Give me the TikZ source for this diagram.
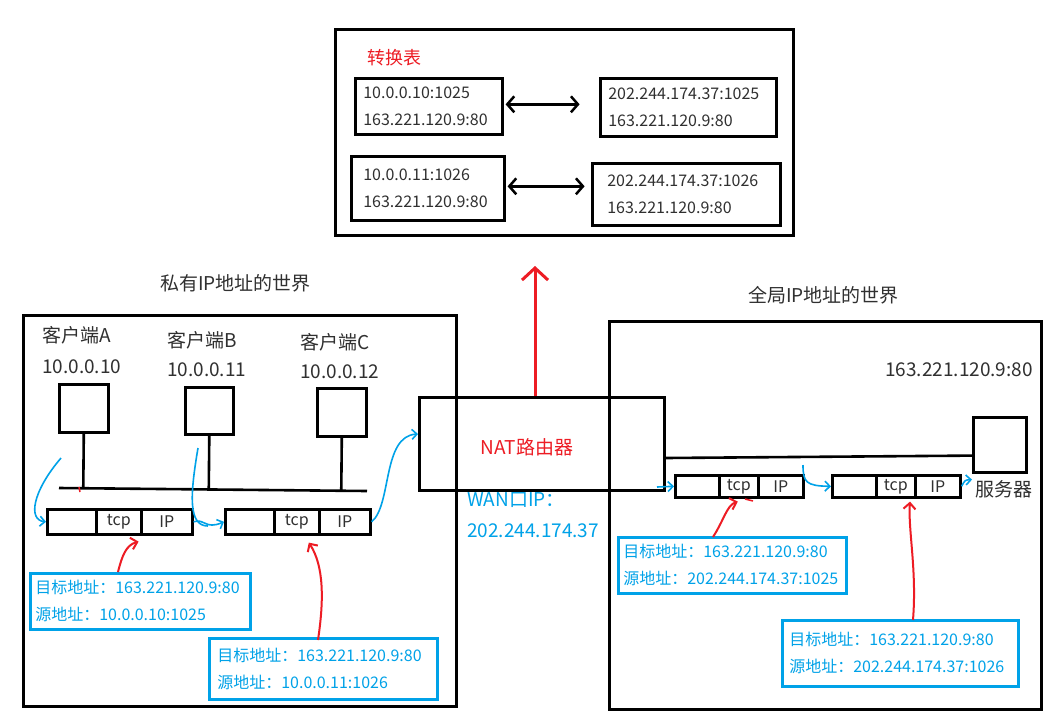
\documentclass[tikz,border=0pt]{standalone}
\usepackage{fontspec}
\setmainfont{Noto Sans CJK SC}
\usetikzlibrary{arrows.meta,calc}
\definecolor{txt}{HTML}{303030}
\definecolor{pblue}{HTML}{00A2E8}
\definecolor{pred}{HTML}{ED1C24}
\begin{document}
\begin{tikzpicture}[x=1pt,y=-1pt,
  blk/.style={draw=black, line width=2.6pt},
  boxn/.style={blk, anchor=north west, inner sep=0pt},
  tbl/.style={blk, anchor=north west, align=left, text=txt, inner ysep=0pt, font=\fontsize{16}{27}\selectfont},
  addr/.style={draw=pblue, line width=2.6pt, anchor=north west, align=left, text=pblue, inner ysep=0pt, font=\fontsize{16}{27}\selectfont},
  cell/.style={blk, anchor=north west, inner sep=0pt, text=txt, font=\fontsize{16}{16}\selectfont},
  lbl/.style={anchor=west, inner sep=0pt, text=txt, font=\fontsize{19}{19}\selectfont},
  bcurve/.style={draw=pblue, line width=1.6pt, -{Straight Barb[length=5pt,width=10pt]}},
  rarrow/.style={draw=pred, line width=2pt, -{Straight Barb[length=6pt,width=12pt]}},
  dbl/.style={line width=2.5pt, {Straight Barb[length=7pt,width=16pt]}-{Straight Barb[length=7pt,width=16pt]}}
]
\fill[white] (0,0) rectangle (1050,718);
\useasboundingbox (0,0) rectangle (1050,718);

% ---------- translation table ----------
\node[boxn, minimum width=458pt, minimum height=206pt] (table) at (334,28) {};
\node[anchor=west, inner sep=0pt, text=pred, font=\fontsize{18}{18}\selectfont] (ttitle) at (367,58) {转换表};
\node[tbl, inner xsep=8pt, text width=131pt, minimum height=56pt] (t1) at (354,77) {10.0.0.10:1025\\163.221.120.9:80};
\node[tbl, inner xsep=8pt, text width=160pt, minimum height=58pt] (t2) at (599,77) {202.244.174.37:1025\\163.221.120.9:80};
\node[tbl, inner xsep=12pt, text width=129pt, minimum height=64pt] (t3) at (350,155) {10.0.0.11:1026\\163.221.120.9:80};
\node[tbl, inner xsep=15pt, text width=158pt, minimum height=62pt] (t4) at (591,162) {202.244.174.37:1026\\163.221.120.9:80};
\draw[dbl] ($(t1.east)+(2,-2)$) -- ++(74,0);
\draw[dbl] ($(t3.east)+(2,-2)$) -- ++(77,0);

% ---------- worlds ----------
\node[lbl] (tpriv) at (160,283) {私有IP地址的世界};
\node[lbl] (tglob) at (748,295) {全局IP地址的世界};
\node[boxn, minimum width=433pt, minimum height=391pt] (priv) at (22,314) {};
\node[boxn, minimum width=432pt, minimum height=388pt] (glob) at (608,320) {};

% ---------- NAT router ----------
\node[boxn, minimum width=245pt, minimum height=93pt] (nat) at (418,396) {};
\node[inner sep=0pt, text=pred, font=\fontsize{19}{19}\selectfont] (natlbl) at (527,447) {NAT路由器};
\node[anchor=west, inner sep=0pt, text=pblue, font=\fontsize{19}{19}\selectfont] (wan1) at (467,500) {WAN口IP：};
\node[anchor=west, inner sep=0pt, text=pblue, font=\fontsize{19}{19}\selectfont] (wan2) at (467,531) {202.244.174.37};
\draw[draw=pred, line width=3pt, -{Straight Barb[length=12pt,width=26pt]}] ($(nat.north west)+(117,0)$) -- ++(0,-130);

% ---------- clients ----------
\node[lbl] (la) at (42,335) {客户端A};
\node[lbl] (ia) at (42,367) {10.0.0.10};
\node[lbl] (lb) at (167,340) {客户端B};
\node[lbl] (ib) at (167,370) {10.0.0.11};
\node[lbl] (lc) at (300,342) {客户端C};
\node[lbl] (ic) at (300,372) {10.0.0.12};
\node[boxn, minimum width=49pt, minimum height=48pt] (cA) at (58,383) {};
\node[boxn, minimum width=48pt, minimum height=47pt] (cB) at (184,386) {};
\node[boxn, minimum width=49pt, minimum height=48pt] (cC) at (316,387) {};
\coordinate (busL) at (59,488);
\coordinate (busR) at (367,491);
\draw[blk] (busL) -- (busR);
\draw[blk] (cA.south) -- ($(busL)!(cA.south)!(busR)$);
\draw[blk] (cB.south) -- ($(busL)!(cB.south)!(busR)$);
\draw[blk] (cC.south) -- ($(busL)!(cC.south)!(busR)$);
\draw[pred, line width=1.5pt] (79,487) -- (80,492);

% ---------- packets (private side) ----------
\node[cell, minimum width=49pt, minimum height=25pt] (p1a) at (46,508) {};
\node[cell, minimum width=45pt, minimum height=25pt] (p1b) at (95,508) {tcp};
\node[cell, minimum width=51pt, minimum height=25pt] (p1c) at (140,508) {IP};
\node[cell, minimum width=49pt, minimum height=25pt] (p2a) at (224,508) {};
\node[cell, minimum width=45pt, minimum height=25pt] (p2b) at (273,508) {tcp};
\node[cell, minimum width=51pt, minimum height=25pt] (p2c) at (318,508) {IP};

% address boxes (private)
\node[addr, inner xsep=5pt, text width=210pt, minimum height=56pt] (b1) at (29,572) {目标地址：163.221.120.9:80\\源地址：10.0.0.10:1025};
\node[addr, inner xsep=8pt, text width=212pt, minimum height=61pt] (b2) at (208,637) {目标地址：163.221.120.9:80\\源地址：10.0.0.11:1026};

% blue flows (private)
\coordinate (aStart) at (61,458);
\coordinate (bStart) at (198,448);
\coordinate (natIn) at ($(nat.north west)+(0,38)$);
\draw[bcurve] (aStart) .. controls (32,492) and (28,520) .. (p1a.west);
\draw[draw=pblue, line width=1.6pt] (bStart) .. controls (190,495) and (188,526) .. (208,526);
\draw[bcurve] (p1c.east) .. controls (205,518) and (205,530) .. (p2a.west);
\draw[bcurve] (p2c.east) .. controls (392,505) and (382,436) .. (natIn);

% red pointers (private)
\draw[rarrow] ($(b1.north west)+(89,0)$) .. controls (122,556) and (126,545) .. ($(p1b.south east)+(-4,6)$);
\draw[rarrow] ($(b2.north west)+(110,3)$) .. controls (324,600) and (324,566) .. ($(p2b.south)+(12,7)$);

% ---------- global side ----------
\node[lbl] (srvip) at (885,370) {163.221.120.9:80};
\node[boxn, minimum width=53pt, minimum height=55pt] (server) at (972,416) {};
\node[lbl] (srvlbl) at (975,489) {服务器};
\path (nat.north east) ++(0,62) coordinate (natR);
\draw[blk] (natR) -- ($(server.south west)+(0,-18)$);

\node[cell, minimum width=44pt, minimum height=22pt] (p3a) at (674,474) {};
\node[cell, minimum width=39pt, minimum height=22pt] (p3b) at (718,474) {tcp};
\node[cell, minimum width=45pt, minimum height=22pt] (p3c) at (757,474) {IP};
\node[cell, minimum width=44pt, minimum height=22pt] (p4a) at (831,474) {};
\node[cell, minimum width=39pt, minimum height=22pt] (p4b) at (875,474) {tcp};
\node[cell, minimum width=45pt, minimum height=22pt] (p4c) at (914,474) {IP};

\node[addr, inner xsep=5pt, text width=218pt, minimum height=56pt] (b3) at (617,536) {目标地址：163.221.120.9:80\\源地址：202.244.174.37:1025};
\node[addr, inner xsep=7pt, text width=222pt, minimum height=66pt] (b4) at (781,619) {目标地址：163.221.120.9:80\\源地址：202.244.174.37:1026};

\coordinate (cStart) at (657,487);
\coordinate (dStart) at (803,465);
\draw[bcurve] (cStart) -- (p3a.west);
\draw[bcurve] (dStart) .. controls (803,482) and (806,486) .. (p4a.west);
\draw[bcurve] (p4c.east) .. controls (965,480) .. ($(server.south west)+(0,6)$);

\draw[rarrow] ($(b3.north west)+(96,1)$) .. controls (724,520) and (727,505) .. ($(p3b.south)+(-1,3)$);
\draw[rarrow] ($(b4.north west)+(132,1)$) .. controls (917,570) and (908,530) .. ($(p4c.south west)+(-4,3)$);
\draw[pred, line width=1.5pt] (745,499) -- (753,501);
\end{tikzpicture}
\end{document}
